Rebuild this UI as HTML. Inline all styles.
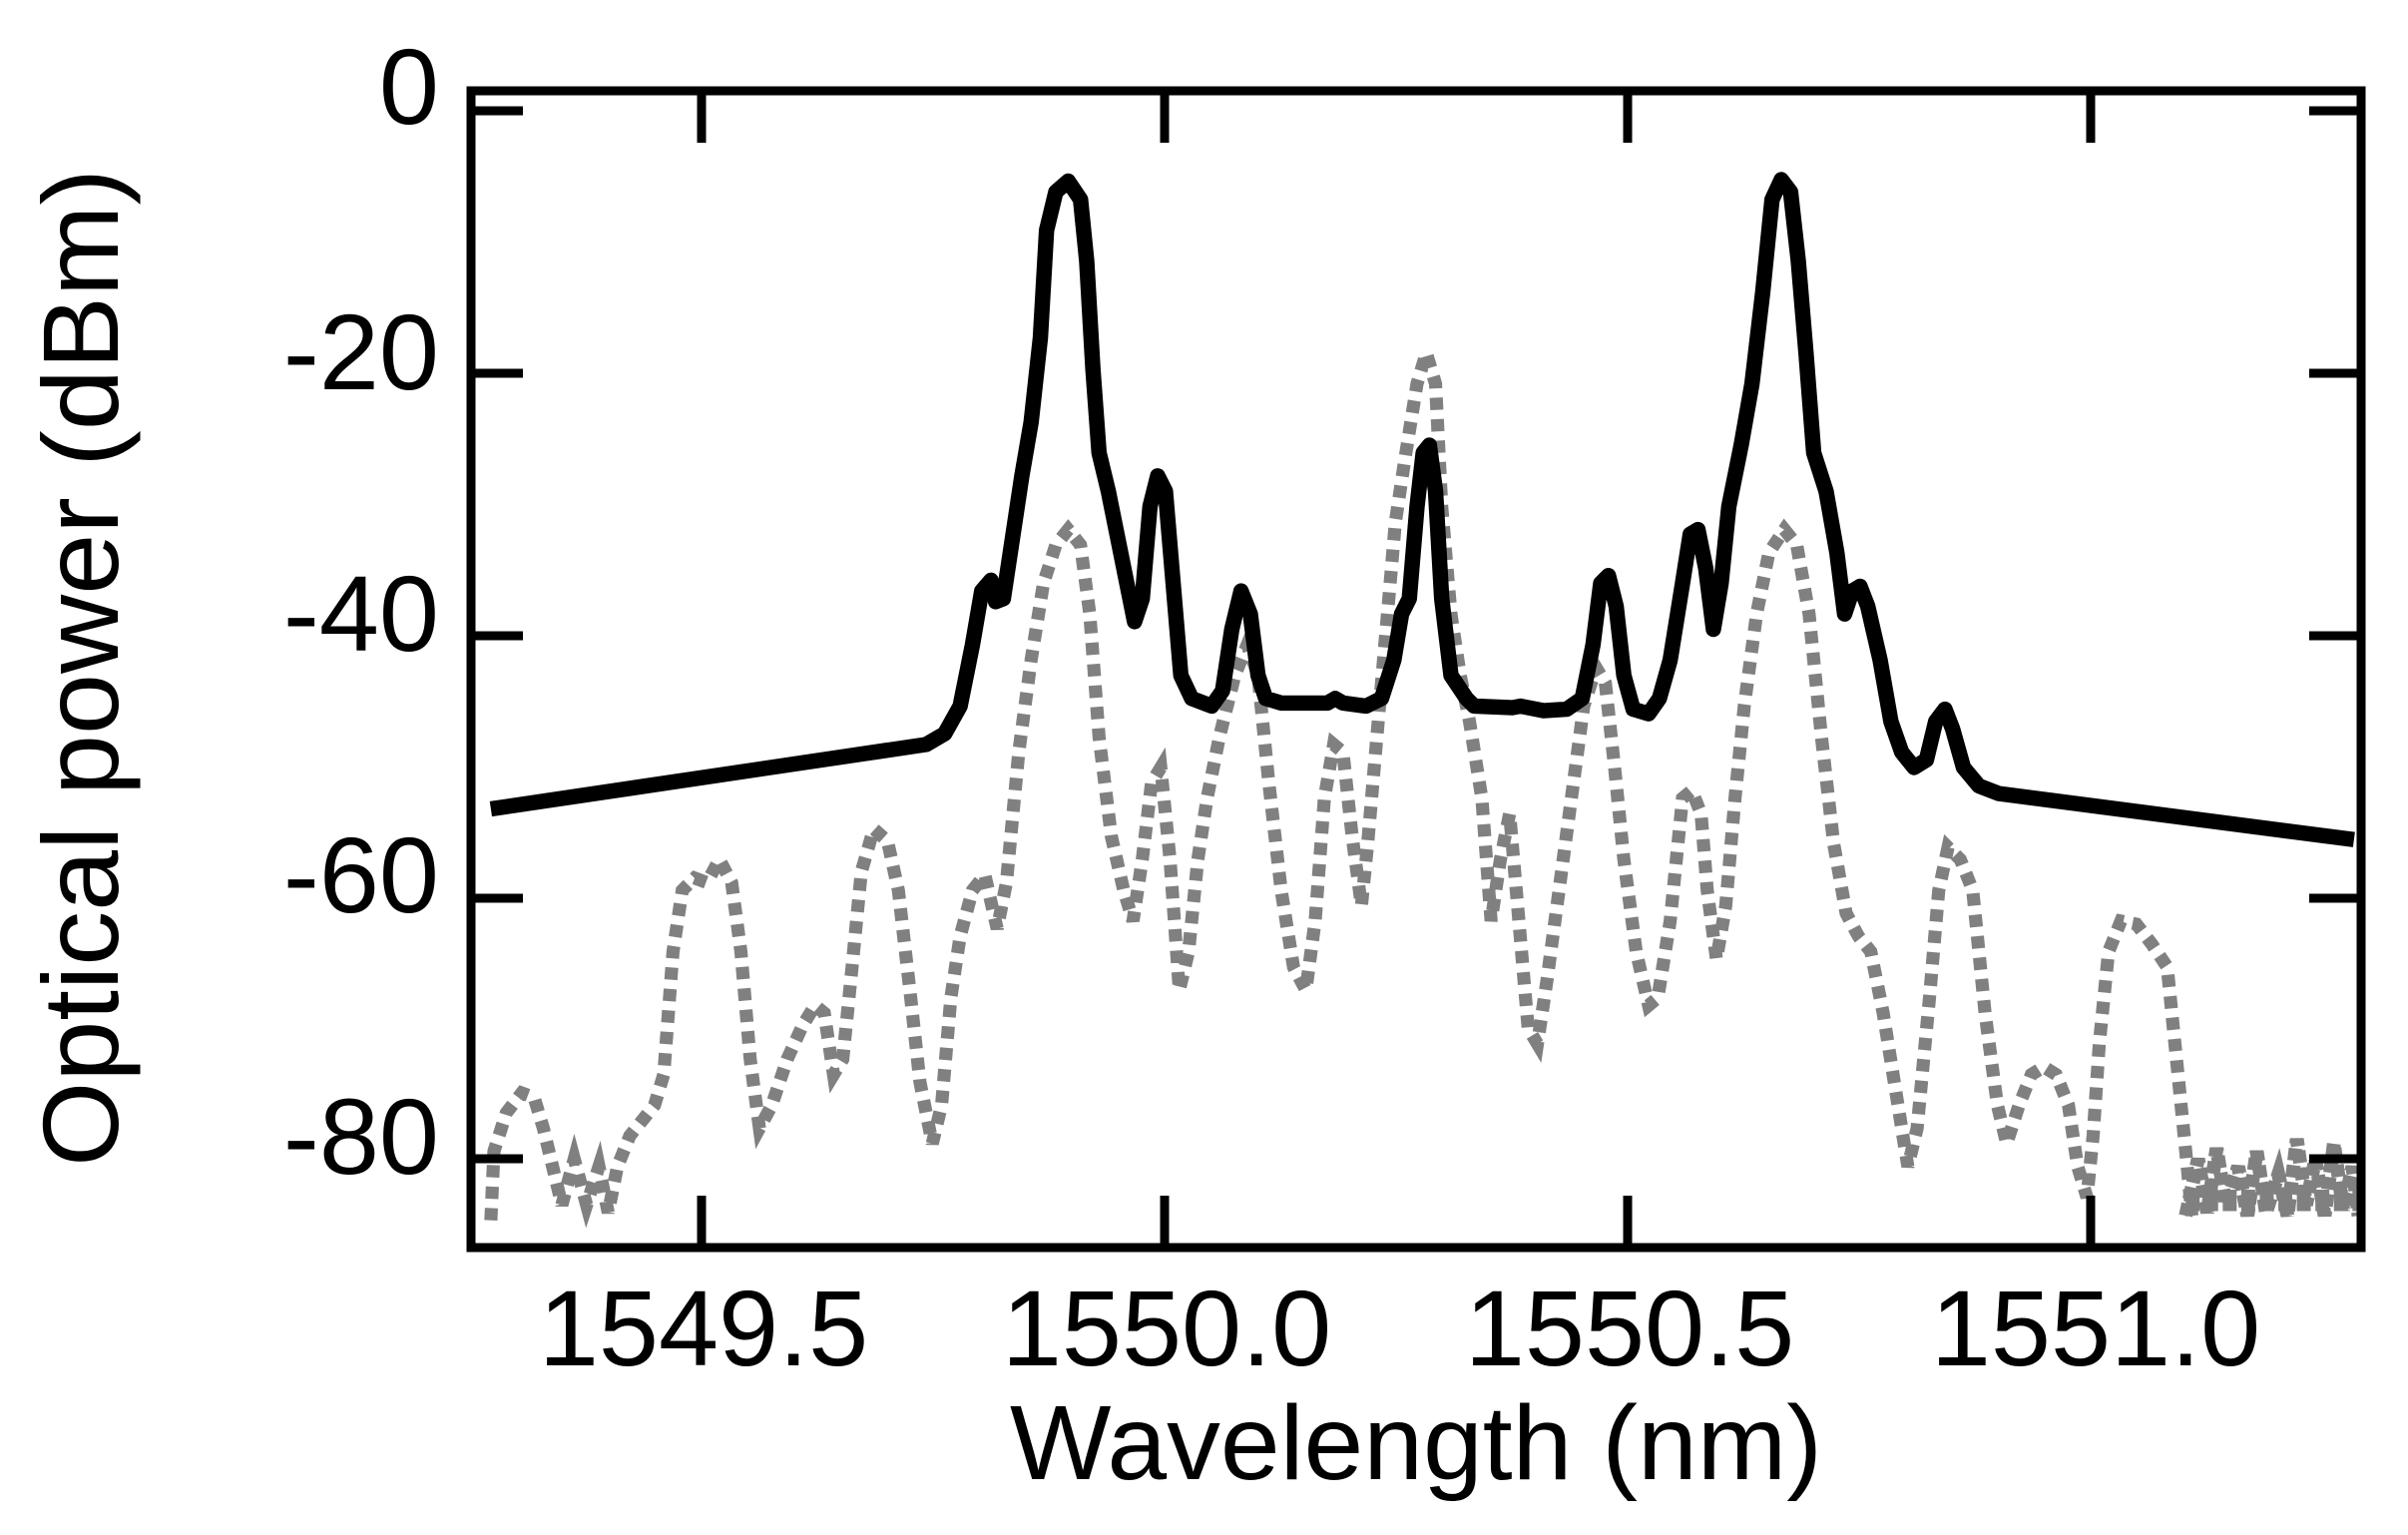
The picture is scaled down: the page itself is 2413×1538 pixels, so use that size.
<!DOCTYPE html>
<html><head><meta charset="utf-8"><style>html,body{margin:0;padding:0;background:#fff}svg{display:block}</style></head>
<body>
<svg width="2413" height="1538" viewBox="0 0 2413 1538" xmlns="http://www.w3.org/2000/svg">
<rect width="2413" height="1538" fill="#fff"/>
<g transform="scale(1.5468,1.538)">
<polyline fill="none" stroke="#808080" stroke-width="8.5" stroke-dasharray="8,6" stroke-linejoin="miter" points="318,795 320,750 328,725 338,712 346,715 352,735 358,760 364,785 372,755 380,785 388,760 394,790 400,760 408,740 416,730 424,720 430,700 436,620 442,580 450,572 458,575 466,560 474,575 480,620 486,690 492,735 500,720 510,690 520,668 528,655 534,660 540,700 546,690 552,630 558,568 566,540 575,548 582,580 590,650 596,705 604,745 610,720 616,650 622,610 630,580 638,570 646,605 652,575 660,490 668,430 676,380 684,355 692,345 700,355 706,400 712,480 720,545 728,580 734,600 740,560 746,510 752,500 758,560 764,645 770,620 776,560 782,520 790,480 800,440 808,420 815,440 822,510 830,580 838,630 846,645 852,600 858,520 864,485 870,490 876,545 882,590 886,550 892,480 898,410 904,340 910,300 918,250 924,230 930,250 934,330 940,400 946,440 952,470 960,520 966,600 972,560 978,530 984,600 990,670 996,680 1002,640 1010,580 1018,520 1026,460 1034,435 1040,445 1046,500 1052,560 1060,620 1068,655 1074,650 1082,600 1090,520 1096,515 1102,530 1106,580 1112,625 1118,590 1124,520 1130,460 1138,400 1146,360 1156,345 1164,355 1172,400 1180,480 1188,550 1196,595 1204,610 1212,620 1220,660 1228,710 1236,760 1242,735 1250,650 1256,580 1262,552 1270,560 1278,580 1286,660 1294,720 1300,745 1308,720 1316,700 1324,695 1332,700 1340,720 1346,760 1352,780 1356,740 1360,680 1366,620 1374,600 1384,602 1394,615 1404,630 1410,690 1416,750 1420,792"/>
<polyline fill="none" stroke="#808080" stroke-width="9" stroke-dasharray="8,3" points="1416,792 1424,755 1430,790 1436,748 1442,785 1450,760 1456,792 1462,750 1468,790 1476,765 1482,792 1488,742 1494,785 1500,755 1506,792 1512,745 1518,788 1524,760 1528,792"/>
<polyline fill="none" stroke="#808080" stroke-width="14" stroke-dasharray="9,3" points="1416,782 1528,782"/>
<polyline fill="none" stroke="#000" stroke-width="10" stroke-linejoin="round" points="318,527 600,485 612,478 622,460 630,420 636,385 642,378 645,392 650,390 656,350 662,310 668,275 674,220 678,150 684,125 692,118 700,130 704,170 708,240 712,295 718,320 724,350 730,380 735,405 740,390 745,330 750,310 755,320 760,380 765,440 772,455 785,460 792,450 798,410 804,385 810,400 815,440 820,455 830,458 860,458 865,455 870,458 885,460 895,455 903,430 908,400 913,390 918,330 922,295 926,290 930,320 934,390 940,440 950,455 955,460 980,461 985,460 1000,463 1015,462 1025,455 1032,420 1037,380 1042,375 1047,395 1052,440 1058,462 1068,465 1075,455 1082,430 1090,380 1095,348 1100,345 1105,370 1110,410 1115,380 1120,330 1128,290 1135,250 1142,190 1148,130 1154,117 1160,125 1165,170 1170,230 1175,295 1183,320 1190,360 1195,400 1200,385 1205,382 1210,395 1218,430 1225,470 1232,490 1240,500 1248,495 1254,470 1260,462 1265,475 1272,500 1282,512 1295,517 1525,547"/>
</g>
<g stroke="#000" stroke-width="9" fill="none">
<rect x="472" y="91" width="1894" height="1159"/>
<path d="M703,91v52 M1167,91v52 M1631,91v52 M2095,91v52 M703,1250v-52 M1167,1250v-52 M1631,1250v-52 M2095,1250v-52"/>
<path d="M472,111h52 M472,374h52 M472,637h52 M472,900h52 M472,1161h52 M2366,111h-52 M2366,374h-52 M2366,637h-52 M2366,900h-52 M2366,1161h-52"/>
</g>
<g font-family="Liberation Sans, sans-serif" font-size="108" fill="#000">
<g text-anchor="middle">
<text x="705" y="1368">1549.5</text>
<text x="1169" y="1368">1550.0</text>
<text x="1633" y="1368">1550.5</text>
<text x="2100" y="1368">1551.0</text>
</g>
<g text-anchor="end">
<text x="440" y="124">0</text>
<text x="440" y="390">-20</text>
<text x="440" y="652">-40</text>
<text x="440" y="914">-60</text>
<text x="440" y="1176">-80</text>
</g>
<text x="1012" y="1482" font-size="106" textLength="814" lengthAdjust="spacingAndGlyphs">Wavelength (nm)</text>
<text transform="translate(118,1169) rotate(-90)" x="0" y="0" font-size="108" textLength="1000" lengthAdjust="spacingAndGlyphs">Optical power (dBm)</text>
</g>
</svg>
</body></html>
